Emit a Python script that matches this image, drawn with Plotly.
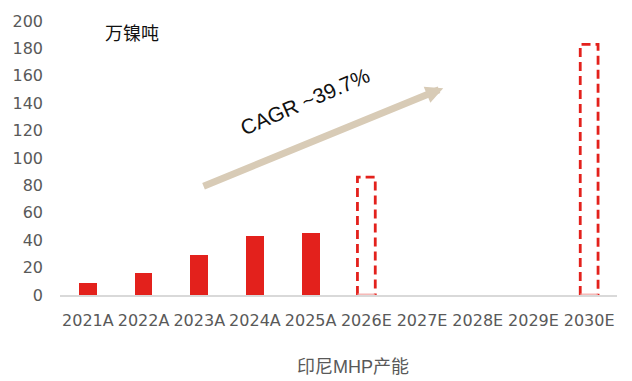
import plotly.graph_objects as go

categories = ["2021A", "2022A", "2023A", "2024A", "2025A",
              "2026E", "2027E", "2028E", "2029E", "2030E"]
actual = [9, 16, 29, 43, 45, None, None, None, None, None]
estimate = [None, None, None, None, None, 86, None, None, None, 183]
y_ticks = [0, 20, 40, 60, 80, 100, 120, 140, 160, 180, 200]

RED = "#e3211c"
BAR_W = 0.32
TICK_FONT = "DejaVu Sans, sans-serif"
TEXT_FONT = "Liberation Sans, Noto Sans CJK SC, sans-serif"

fig = go.Figure()
fig.add_trace(go.Bar(x=categories, y=actual, width=BAR_W,
                     marker=dict(color=RED, line=dict(width=0)),
                     hoverinfo="skip", showlegend=False))

shapes = []
for i, v in enumerate(estimate):
    if v is None:
        continue
    x0, x1 = i - BAR_W / 2, i + BAR_W / 2
    shapes.append(dict(type="path", xref="x", yref="y",
                       path=f"M {x0} 0 L {x0} {v} L {x1} {v} L {x1} 0",
                       line=dict(color=RED, width=2.8, dash="9px,5px")))
    shapes.append(dict(type="line", xref="x", yref="y", x0=x0, x1=x1, y0=0.6, y1=0.6,
                       line=dict(color="#f4a6a4", width=1.2)))

annotations = [
    dict(x=6.38, y=151, ax=2.05, ay=79, xref="x", yref="y", axref="x", ayref="y",
         text="", showarrow=True, arrowhead=2, arrowsize=0.5, arrowwidth=7,
         arrowcolor="#d8cbb6", standoff=0),
    dict(x=3.9, y=141, xref="x", yref="y", text="CAGR ~39.7%", showarrow=False,
         textangle=-23.4, font=dict(size=21, color="#111111", family=TEXT_FONT)),
    dict(x=(132 - 60) / 557, y=(295 - 30) / 278, xref="paper", yref="paper",
         text="万镍吨", showarrow=False, xanchor="center", yanchor="middle",
         font=dict(size=18, color="#111111", family=TEXT_FONT)),
    dict(x=(353 - 60) / 557, y=-(368 - 295) / 278, xref="paper", yref="paper",
         text="印尼MHP产能", showarrow=False, xanchor="center", yanchor="middle",
         font=dict(size=18, color="#595959", family=TEXT_FONT)),
]

fig.update_layout(
    width=632, height=381,
    margin=dict(l=60, r=15, t=17, b=86),
    paper_bgcolor="white", plot_bgcolor="white",
    font=dict(family=TICK_FONT, color="#595959"),
    shapes=shapes, annotations=annotations,
    bargap=0,
    xaxis=dict(type="category", categoryorder="array", categoryarray=categories,
               showgrid=False, zeroline=False, showline=True, linecolor="#d9d9d9",
               linewidth=1.5, ticks="", tickfont=dict(size=16, color="#595959"),
               ticklabelstandoff=10, range=[-0.5, 9.5], fixedrange=True),
    yaxis=dict(range=[0, 200], tickvals=y_ticks, showgrid=False, zeroline=False,
               showline=False, ticks="", tickfont=dict(size=16, color="#595959"),
               ticklabelstandoff=16, fixedrange=True),
)

fig.write_html("out.html")
